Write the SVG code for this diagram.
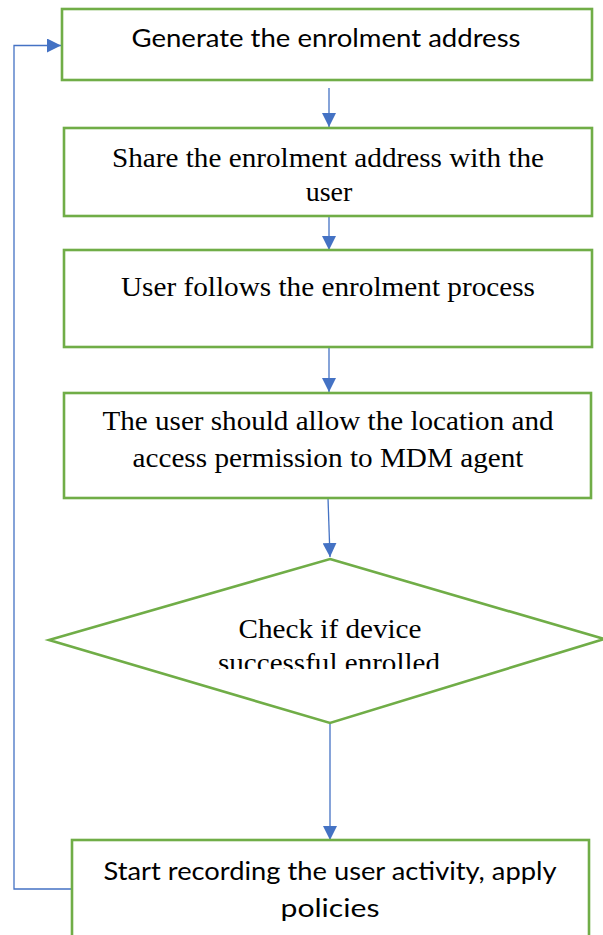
<svg xmlns="http://www.w3.org/2000/svg" width="603" height="935" viewBox="0 0 603 935">
  <style>
    .node { fill: #ffffff; stroke: #70ad47; stroke-width: 2.6; }
    .edge { fill: none; stroke: #4472c4; stroke-width: 1.3; }
    .body-text { font-family: 'Liberation Serif', 'Times New Roman', Times, serif; font-size: 28px; fill: #000000; text-anchor: middle; }
    .ui-text { font-family: Lato, 'Liberation Sans', sans-serif; font-size: 25px; fill: #000000; text-anchor: middle; }
  </style>
  <defs>
    <marker id="arrow" viewBox="0 0 14 14" refX="14" refY="7" markerWidth="14" markerHeight="14" markerUnits="userSpaceOnUse" orient="auto">
      <path d="M0,0 L14,7 L0,14 Z" fill="#4472c4"/>
    </marker>
    <clipPath id="decisionClip">
      <rect x="150" y="600" width="360" height="69"/>
    </clipPath>
  </defs>

  <rect width="603" height="935" fill="#ffffff"/>

  <!-- connectors -->
  <g id="connectors">
    <line class="edge" x1="329" y1="88" x2="329" y2="127" marker-end="url(#arrow)"/>
    <line class="edge" x1="329" y1="217" x2="329" y2="250" marker-end="url(#arrow)"/>
    <line class="edge" x1="329" y1="347" x2="329" y2="392" marker-end="url(#arrow)"/>
    <line class="edge" x1="328" y1="498" x2="330" y2="557" marker-end="url(#arrow)"/>
    <line class="edge" x1="330" y1="723" x2="330" y2="840" marker-end="url(#arrow)"/>
    <polyline class="edge" points="72,889 14,889 14,45.5 61,45.5" marker-end="url(#arrow)"/>
  </g>

  <!-- step 1 -->
  <g id="generate-address">
    <rect class="node" x="62" y="9" width="530" height="71"/>
    <text class="ui-text" x="326" y="47" textLength="389" lengthAdjust="spacingAndGlyphs">Generate the enrolment address</text>
  </g>

  <!-- step 2 -->
  <g id="share-address">
    <rect class="node" x="64" y="128" width="528" height="88"/>
    <text class="body-text" font-family="Liberation Serif" x="328" y="167" textLength="432" lengthAdjust="spacingAndGlyphs">Share the enrolment address with the</text>
    <text class="body-text" font-family="Liberation Serif" x="329" y="201">user</text>
  </g>

  <!-- step 3 -->
  <g id="follow-process">
    <rect class="node" x="64" y="250" width="528" height="97"/>
    <text class="body-text" x="328" y="296" textLength="414" lengthAdjust="spacingAndGlyphs">User follows the enrolment process</text>
  </g>

  <!-- step 4 -->
  <g id="allow-permissions">
    <rect class="node" x="64" y="393" width="527" height="105"/>
    <text class="body-text" x="328" y="430" textLength="451" lengthAdjust="spacingAndGlyphs">The user should allow the location and</text>
    <text class="body-text" x="328" y="467" textLength="391" lengthAdjust="spacingAndGlyphs">access permission to MDM agent</text>
  </g>

  <!-- decision -->
  <g id="check-enrolled">
    <polygon class="node" points="330,559 604,639 330,723 49,640"/>
    <g clip-path="url(#decisionClip)">
      <text class="body-text" x="330" y="638" textLength="183" lengthAdjust="spacingAndGlyphs">Check if device</text>
      <text class="body-text" x="329" y="672" textLength="222" lengthAdjust="spacingAndGlyphs">successful enrolled</text>
    </g>
  </g>

  <!-- step 5 -->
  <g id="start-recording">
    <rect class="node" x="72" y="840" width="517" height="110"/>
    <text class="ui-text" x="330" y="880" textLength="453" lengthAdjust="spacingAndGlyphs">Start recording the user activity, apply</text>
    <text class="ui-text" x="330" y="917" textLength="99" lengthAdjust="spacingAndGlyphs">policies</text>
  </g>
</svg>
